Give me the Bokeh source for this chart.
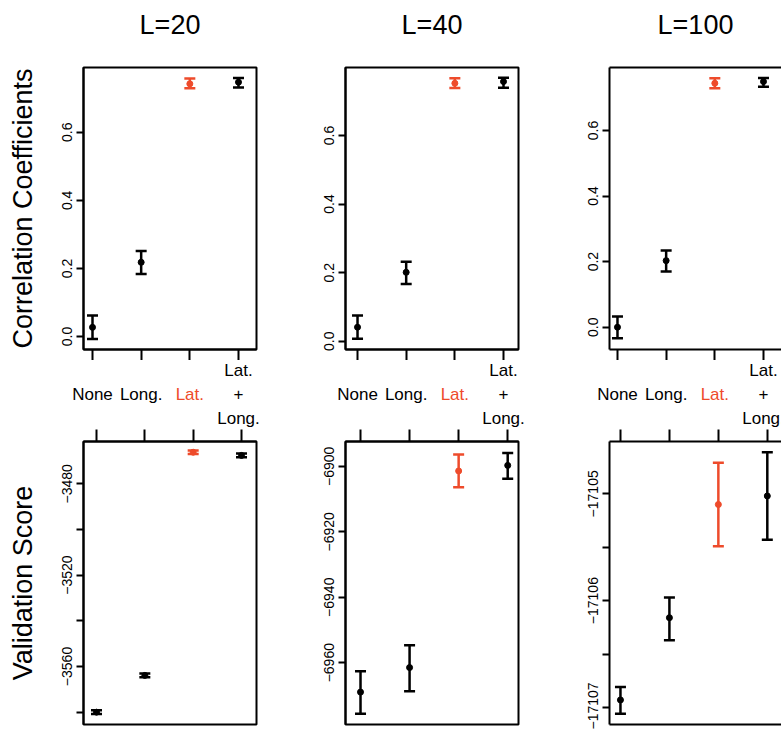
from bokeh.plotting import figure
from bokeh.layouts import column, row
from bokeh.models import ColumnDataSource, Range1d, LinearAxis, FixedTicker, PrintfTickFormatter
from bokeh.core.properties import value
from bokeh.embed import file_html
from bokeh.resources import INLINE

# ---------------- data ----------------
categories = ["None", "Long.", "Lat.", "Lat.\n+\nLong."]
category_colors = ["#000000", "#000000", "#ee4b2b", "#000000"]
window_titles = ["L=20", "L=40", "L=100"]

corr_L20_mean = [0.027, 0.218, 0.742, 0.747]
corr_L20_lower = [-0.007, 0.184, 0.729, 0.731]
corr_L20_upper = [0.062, 0.251, 0.758, 0.759]
corr_L40_mean = [0.041, 0.201, 0.752, 0.757]
corr_L40_lower = [0.007, 0.167, 0.738, 0.739]
corr_L40_upper = [0.075, 0.232, 0.767, 0.768]
corr_L100_mean = [0.000, 0.203, 0.744, 0.749]
corr_L100_lower = [-0.034, 0.170, 0.729, 0.733]
corr_L100_upper = [0.033, 0.234, 0.759, 0.760]

val_L20_mean = [-3580.0, -3563.9, -3466.2, -3467.6]
val_L20_lower = [-3580.8, -3564.7, -3467.0, -3468.4]
val_L20_upper = [-3579.2, -3563.1, -3465.4, -3466.8]
val_L40_mean = [-6969.0, -6961.5, -6901.4, -6899.7]
val_L40_lower = [-6975.6, -6968.7, -6906.4, -6903.8]
val_L40_upper = [-6962.6, -6954.7, -6896.4, -6895.9]
val_L100_mean = [-17106.93, -17106.16, -17105.10, -17105.02]
val_L100_lower = [-17107.06, -17106.37, -17105.49, -17105.43]
val_L100_upper = [-17106.81, -17105.97, -17104.71, -17104.61]

corr_ticks = [0.0, 0.2, 0.4, 0.6]
val_L20_ticks = [-3580, -3560, -3540, -3520, -3500, -3480]
val_L20_tick_labels = ["", "\u22123560", "", "\u22123520", "", "\u22123480"]
val_L40_ticks = [-6960, -6940, -6920, -6900]
val_L40_tick_labels = ["\u22126960", "\u22126940", "\u22126920", "\u22126900"]
val_L100_ticks = [-17107, -17106.5, -17106, -17105.5, -17105]
val_L100_tick_labels = ["\u221217107", "", "\u221217106", "", "\u221217105"]

# ---------------- layout (pixels / view ranges) ----------------
FONT_NAME = "Liberation Sans"
FONT = value(FONT_NAME)
cols = [(0, 300, 83, 256), (300, 560, 345, 518), (560, 781, 609, 781)]
title_h = 40
top_h, top_ft, top_fb = 320, 27, 309
lab_h = 68
bot_h, bot_ft, bot_fb = 301, 13, 296
top_xr = [(0.815, 4.37), (0.753, 4.308), (0.836, 4.37)]
bot_xr = [(0.731, 4.31), (0.694, 4.22), (0.776, 4.29)]
top_yr = [(-0.038, 0.790), (-0.024, 0.798), (-0.068, 0.792)]
bot_yr = [(-3585.4, -3461.5), (-6978.9, -6892.4), (-17107.16, -17104.51)]

positions = list(range(1, len(categories) + 1))

corr_sets = [(corr_L20_mean, corr_L20_lower, corr_L20_upper),
             (corr_L40_mean, corr_L40_lower, corr_L40_upper),
             (corr_L100_mean, corr_L100_lower, corr_L100_upper)]
val_sets = [(val_L20_mean, val_L20_lower, val_L20_upper),
            (val_L40_mean, val_L40_lower, val_L40_upper),
            (val_L100_mean, val_L100_lower, val_L100_upper)]
val_ticks = [(val_L20_ticks, val_L20_tick_labels),
             (val_L40_ticks, val_L40_tick_labels),
             (val_L100_ticks, val_L100_tick_labels)]


def style_axis(ax, tick_out):
    ax.axis_line_width = 2
    ax.axis_line_color = "black"
    ax.major_tick_line_width = 2
    ax.major_tick_line_color = "black"
    ax.major_tick_out = tick_out
    ax.major_tick_in = 0
    ax.minor_tick_out = 0
    ax.minor_tick_in = 0


def blank_x_axis(tick_out, ticks):
    ax = LinearAxis(ticker=FixedTicker(ticks=ticks))
    style_axis(ax, tick_out)
    ax.major_label_overrides = {t: "" for t in ticks}
    ax.major_label_text_font_size = "1px"
    ax.major_label_standoff = 0
    return ax


def y_axis(ticks, label_text=None, formatter=None, overrides=None):
    ax = LinearAxis(ticker=FixedTicker(ticks=ticks))
    style_axis(ax, 7)
    if formatter is not None:
        ax.formatter = formatter
    if overrides is not None:
        ax.major_label_overrides = overrides
    ax.major_label_orientation = "vertical"
    ax.major_label_text_font = FONT_NAME
    ax.major_label_text_font_size = "14px"
    ax.major_label_text_color = "black"
    ax.major_label_standoff = 4
    if label_text:
        ax.axis_label = label_text
        ax.axis_label_text_font = FONT_NAME
        ax.axis_label_text_font_size = "27px"
        ax.axis_label_text_font_style = "normal"
        ax.axis_label_text_color = "black"
        ax.axis_label_standoff = 22
    return ax


def draw_bars(p, mean, lower, upper):
    src = ColumnDataSource(dict(x=positions, mean=mean, lower=lower, upper=upper,
                                color=category_colors))
    p.segment(x0="x", y0="lower", x1="x", y1="upper", line_color="color",
              line_width=2.5, source=src)
    p.scatter(x="x", y="lower", marker="dash", size=11, line_color="color",
              line_width=2.5, source=src)
    p.scatter(x="x", y="upper", marker="dash", size=11, line_color="color",
              line_width=2.5, source=src)
    p.scatter(x="x", y="mean", marker="circle", size=6, fill_color="color",
              line_color="color", source=src)


def strip(w, h, xr):
    f = figure(width=w, height=h, x_range=xr, y_range=Range1d(0, 1),
               output_backend="svg", toolbar_location=None,
               x_axis_location=None, y_axis_location=None, min_border=0)
    f.grid.visible = False
    f.outline_line_color = None
    return f


title_figs, top_figs, lab_figs, bot_figs = [], [], [], []
for i, (cl, cr, fl, fr) in enumerate(cols):
    w = cr - cl
    right_open = (fr >= 781)
    x0, x1 = top_xr[i]
    s = (x1 - x0) / (fr - fl)
    col_range = (x0 - (fl - cl) * s, x1 + (cr - fr) * s)

    # ---------- panel title ----------
    t = strip(w, title_h, Range1d(*col_range))
    tsrc = ColumnDataSource(dict(x=[(x0 + x1) / 2], y=[0.39], text=[window_titles[i]]))
    t.text(x="x", y="y", text="text", source=tsrc, text_color="black",
           text_font=FONT, text_font_size="27px", text_align="center",
           text_baseline="middle")
    title_figs.append(t)

    # ---------- top panel: correlation coefficients ----------
    p = figure(width=w, height=top_h, x_range=Range1d(*top_xr[i]), y_range=Range1d(*top_yr[i]),
               output_backend="svg", toolbar_location=None,
               x_axis_location=None, y_axis_location=None,
               min_border_left=fl - cl, min_border_right=cr - fr,
               min_border_top=top_ft, min_border_bottom=top_h - top_fb)
    p.grid.visible = False
    p.outline_line_color = None if right_open else "black"
    p.outline_line_width = 2
    p.add_layout(y_axis(corr_ticks, "Correlation Coefficients" if i == 0 else None,
                        formatter=PrintfTickFormatter(format="%.1f")), "left")
    p.add_layout(blank_x_axis(11, positions), "below")
    if right_open:
        p.add_layout(blank_x_axis(0, []), "above")
    m, lo, up = corr_sets[i]
    draw_bars(p, m, lo, up)
    top_figs.append(p)

    # ---------- category labels between rows ----------
    q = strip(w, lab_h, Range1d(*col_range))
    lsrc = ColumnDataSource(dict(x=positions, y=[0.5] * len(positions), text=categories,
                                 color=category_colors))
    q.text(x="x", y="y", text="text", text_color="color", source=lsrc,
           text_font=FONT, text_font_size="17px", text_align="center",
           text_baseline="middle", text_line_height=1.25)
    lab_figs.append(q)

    # ---------- bottom panel: validation score ----------
    b = figure(width=w, height=bot_h, x_range=Range1d(*bot_xr[i]), y_range=Range1d(*bot_yr[i]),
               output_backend="svg", toolbar_location=None,
               x_axis_location=None, y_axis_location=None,
               min_border_left=fl - cl, min_border_right=cr - fr,
               min_border_top=bot_ft, min_border_bottom=bot_h - bot_fb)
    b.grid.visible = False
    b.outline_line_color = None if right_open else "black"
    b.outline_line_width = 2
    tk, tl = val_ticks[i]
    b.add_layout(y_axis(tk, "Validation Score" if i == 0 else None,
                        overrides=dict(zip(tk, tl))), "left")
    b.add_layout(blank_x_axis(12, positions), "above")
    if right_open:
        b.add_layout(blank_x_axis(0, []), "below")
    m, lo, up = val_sets[i]
    draw_bars(b, m, lo, up)
    bot_figs.append(b)

layout = column(row(*title_figs), row(*top_figs), row(*lab_figs), row(*bot_figs))
open("out.html", "w").write(file_html(layout, INLINE))
